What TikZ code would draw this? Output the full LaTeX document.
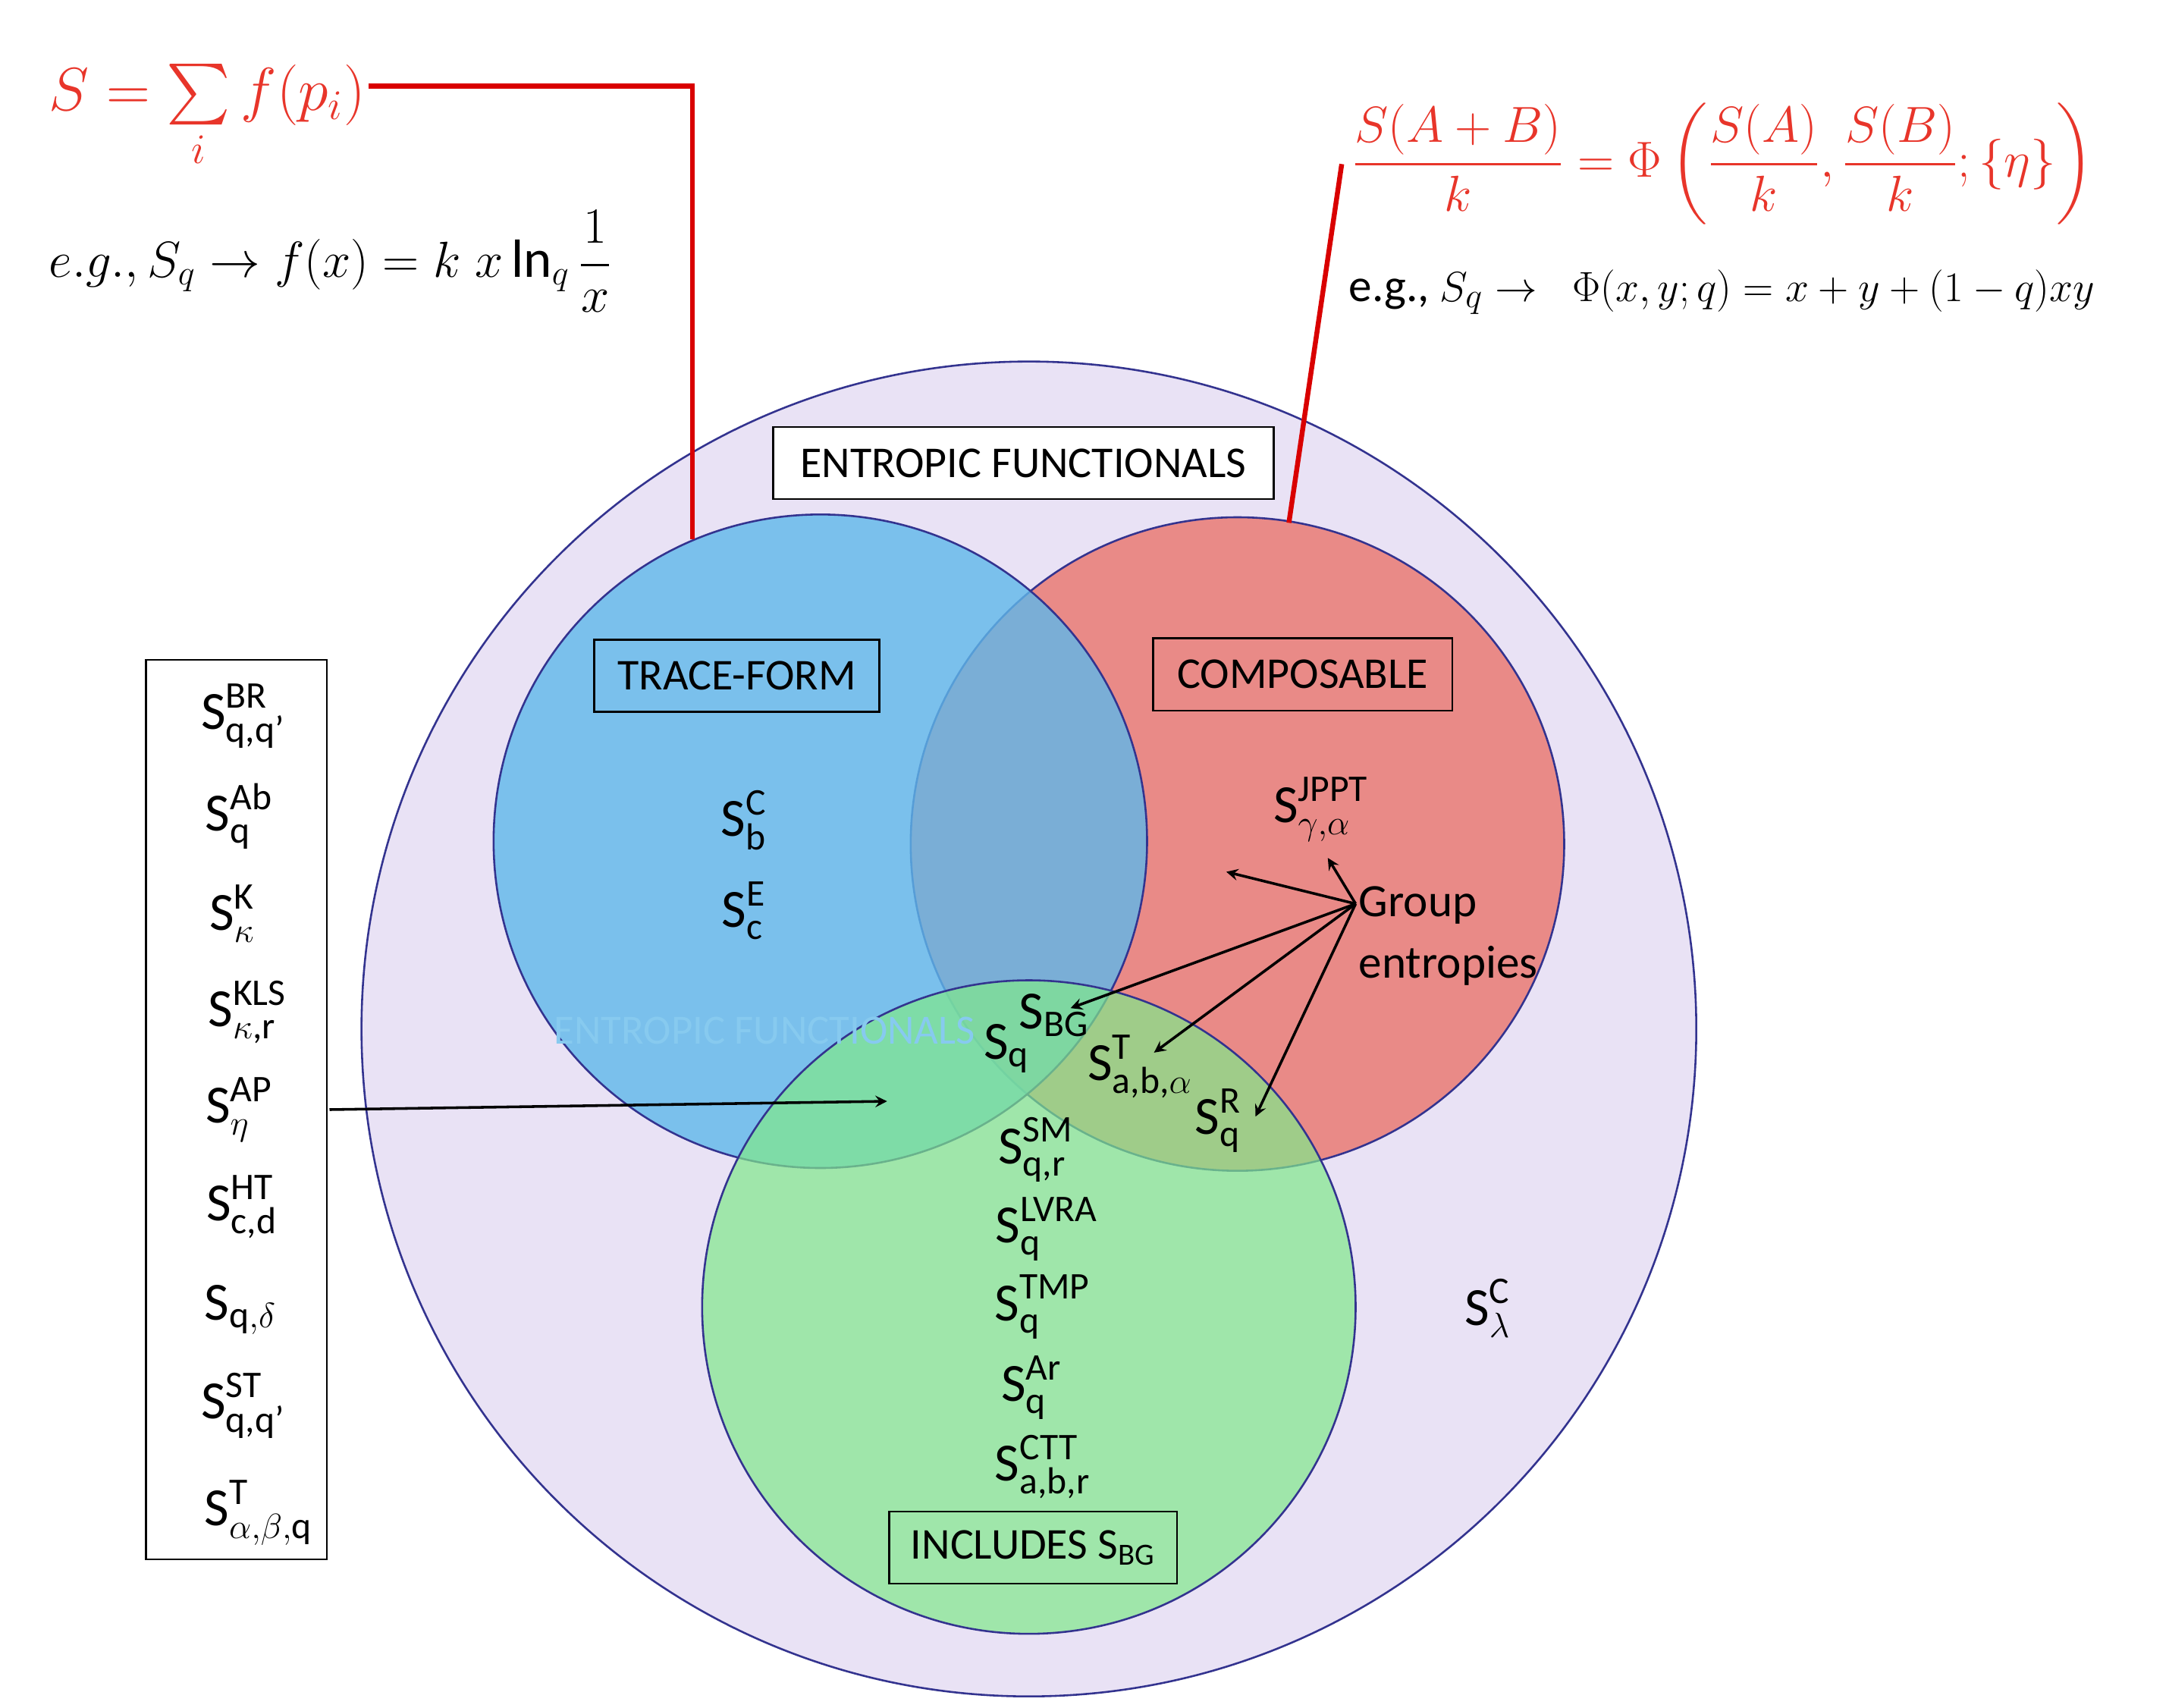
\documentclass[tikz,border=0pt]{standalone}
\usepackage{amsmath}
\usepackage{fontspec}
\setmainfont{Carlito}
\begin{document}
\begin{tikzpicture}[x=0.2mm,y=-0.2mm,
  circ/.style={draw=blue!45!black!80, line width=0.8pt},
  lbl/.style={draw=black, line width=0.8pt, fill=none, inner sep=0pt, minimum height=10.4mm, font=\fontsize{18}{20}\selectfont},
  ent/.style={font=\fontsize{22}{24}\selectfont, inner sep=0pt},
  ar/.style={->, line width=1.1pt, >=stealth},
  red/.style={draw=red!85!black, line width=2pt}]
\useasboundingbox (0,0) rectangle (1560,1228);
\definecolor{lav}{HTML}{E9E2F5}
\definecolor{cb}{HTML}{5FB8EA}
\definecolor{cr}{HTML}{E98A87}
\definecolor{cg}{HTML}{80E98B}
\definecolor{fr}{HTML}{E8352A}
\fill[white] (0,0) rectangle (1560,1228);
\node[circ, circle, fill=lav, minimum size=192mm, inner sep=0pt] (big) at (740,740) {};
\node[circ, circle, fill=cr, minimum size=94mm, inner sep=0pt] (red) at (890,607) {};
\node[circ, circle, fill=cb, fill opacity=0.8, minimum size=94mm, inner sep=0pt] (blue) at (590,605) {};
\node[circ, circle, fill=cg, fill opacity=0.7, minimum size=94mm, inner sep=0pt] (green) at (740,940) {};
\node[text=cb!75!white, font=\fontsize{17}{19}\selectfont] (ghost) at (550,741) {ENTROPIC FUNCTIONALS};
% boxes
\node[lbl, fill=white, minimum width=72mm] (ef) at (736,333) {ENTROPIC FUNCTIONALS};
\node[lbl, minimum width=41mm] (tf) at (530,486) {TRACE-FORM};
\node[lbl, minimum width=43mm] (co) at (937,485) {COMPOSABLE};
\node[lbl, minimum width=41.4mm] (inc) at (743,1113) {INCLUDES S\textsubscript{BG}};
\node[draw, line width=0.8pt, minimum width=26mm, minimum height=129.4mm, inner sep=0pt] (list) at (170,798) {};
% list entries
\node[ent] (l1) at (175,515) {$\text{S}^{\text{BR}}_{\text{q,q'}}$};
\node[ent] (l2) at (172,587) {$\text{S}^{\text{Ab}}_{\text{q}}$};
\node[ent] (l3) at (167,657) {$\text{S}^{\text{K}}_{\kappa}$};
\node[ent] (l4) at (178,728) {$\text{S}^{\text{KLS}}_{\kappa\text{,r}}$};
\node[ent] (l5) at (172,798) {$\text{S}^{\text{AP}}_{\eta}$};
\node[ent] (l6) at (174,868) {$\text{S}^{\text{HT}}_{\text{c,d}}$};
\node[ent] (l7) at (173,942) {$\text{S}_{\text{q},\delta}$};
\node[ent] (l8) at (175,1011) {$\text{S}^{\text{ST}}_{\text{q,q'}}$};
\node[ent] (l9) at (186,1088) {$\text{S}^{\text{T}}_{\alpha,\beta,\text{q}}$};
% circle entries
\node[ent] (sbc) at (535,590) {$\text{S}^{\text{C}}_{\text{b}}$};
\node[ent] (sce) at (535,655) {$\text{S}^{\text{E}}_{\text{c}}$};
\node[ent] (jppt) at (950,582) {$\text{S}^{\text{JPPT}}_{\gamma,\alpha}$};
\node[ent] (sbg) at (758,730) {$\text{S}_{\text{BG}}$};
\node[ent] (sq) at (724,754) {$\text{S}_{\text{q}}$};
\node[ent] (st) at (820,767) {$\text{S}^{\text{T}}_{\text{a,b,}\alpha}$};
\node[ent] (sr) at (876,806) {$\text{S}^{\text{R}}_{\text{q}}$};
\node[ent] (ssm) at (745,827) {$\text{S}^{\text{SM}}_{\text{q,r}}$};
\node[ent] (slv) at (753,884) {$\text{S}^{\text{LVRA}}_{\text{q}}$};
\node[ent] (stmp) at (750,940) {$\text{S}^{\text{TMP}}_{\text{q}}$};
\node[ent] (sar) at (742,998) {$\text{S}^{\text{Ar}}_{\text{q}}$};
\node[ent] (sctt) at (750,1055) {$\text{S}^{\text{CTT}}_{\text{a,b,r}}$};
\node[ent] (slam) at (1070,941) {$\text{S}^{\text{C}}_{\lambda}$};
\node[align=left, anchor=west, font=\fontsize{19}{25}\selectfont, inner sep=0pt] (grp) at (977,673) {Group\\entropies};
% arrows
\coordinate (g0) at (975,650);
\coordinate (t0) at (237,798);
\coordinate (t1) at (638,792);
\draw[ar] (t0) -- (t1);
\draw[ar] (g0) -- (882,627);
\draw[ar] (g0) -- (955,617);
\draw[ar] (g0) -- (770,725);
\draw[ar] (g0) -- (830,757);
\draw[ar] (g0) -- (903,803);
% red formulas
\node[text=fr, anchor=west, font=\fontsize{24}{26}\selectfont, inner sep=0pt] (f1) at (35,84) {$S=\sum\limits_i f(p_i)$};
\coordinate (r1) at (265,62); \coordinate (r2) at (498,62); \coordinate (r3) at (498,388);
\draw[red] (r1) -- (r2) -- (r3);
\node[anchor=west, font=\fontsize{22}{24}\selectfont, inner sep=0pt] (f2) at (35,188) {$e.g., S_q\rightarrow f(x)=k\;x\ln_q\dfrac{1}{x}$};
\node[text=fr, anchor=west, font=\fontsize{20}{22}\selectfont, inner sep=0pt] (f3) at (972,118) {$\dfrac{S(A+B)}{k}=\Phi\left(\dfrac{S(A)}{k},\dfrac{S(B)}{k};\{\eta\}\right)$};
\coordinate (q1) at (965,118); \coordinate (q2) at (927,376);
\draw[red] (q1) -- (q2);
\node[anchor=west, font=\fontsize{19}{21}\selectfont, inner sep=0pt] (f4) at (970,210) {e.g., $S_q\rightarrow\;\;\Phi(x,y;q)=x+y+(1-q)xy$};
\end{tikzpicture}
\end{document}
